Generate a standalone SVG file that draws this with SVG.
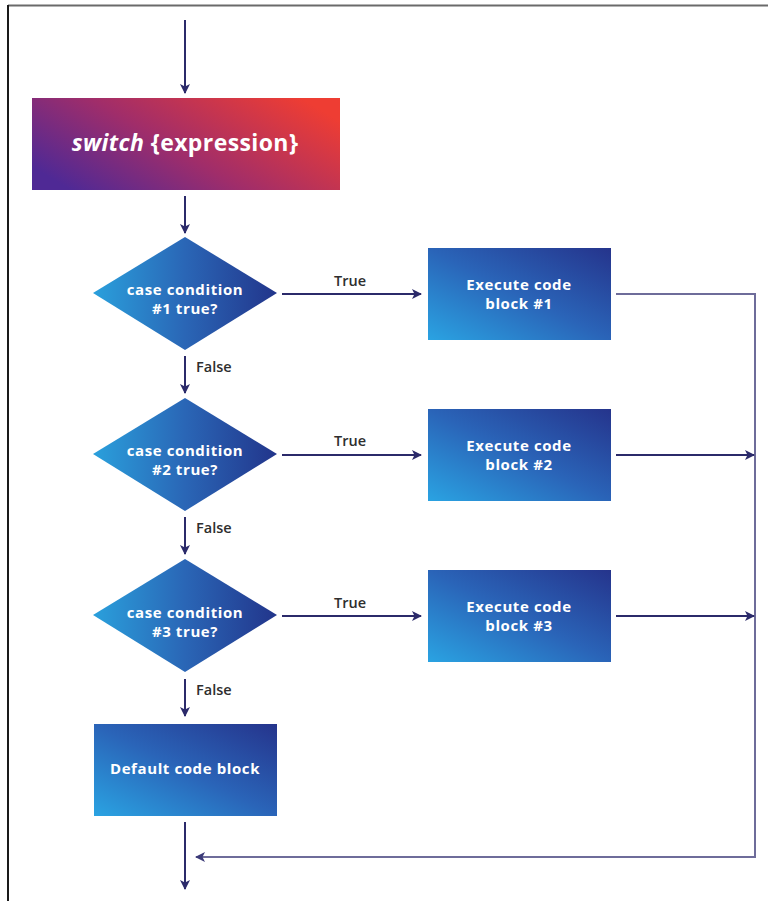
<svg xmlns="http://www.w3.org/2000/svg" width="768" height="901" viewBox="0 0 768 901">
  <defs>
    <linearGradient id="gSwitch" x1="0" y1="0.75" x2="1" y2="0.25">
      <stop offset="0" stop-color="#4f2995"/>
      <stop offset="0.45" stop-color="#a02d6a"/>
      <stop offset="1" stop-color="#ee3d33"/>
    </linearGradient>
    <linearGradient id="gBlue" x1="0" y1="1" x2="1" y2="0">
      <stop offset="0" stop-color="#2aa3e2"/>
      <stop offset="0.5" stop-color="#2a64b8"/>
      <stop offset="1" stop-color="#25348c"/>
    </linearGradient>
    <linearGradient id="gDiamond" x1="0" y1="0.5" x2="1" y2="0.5">
      <stop offset="0" stop-color="#2aa0dc"/>
      <stop offset="0.5" stop-color="#2a66b6"/>
      <stop offset="1" stop-color="#22358b"/>
    </linearGradient>
    <marker id="arrow" viewBox="0 0 10 10" refX="9" refY="5" markerWidth="5" markerHeight="5" orient="auto" markerUnits="strokeWidth">
      <path d="M0,0 L10,5 L0,10 L2.5,5 Z" fill="#2b2a6a"/>
    </marker>
    <marker id="arrowSoft" viewBox="0 0 10 10" refX="9" refY="5" markerWidth="5" markerHeight="5" orient="auto" markerUnits="strokeWidth">
      <path d="M0,0 L10,5 L0,10 L2.5,5 Z" fill="#3b3a78"/>
    </marker>
  </defs>
  <style>
    .conn { fill: none; stroke: #2b2a6a; stroke-width: 2; }
    .ret { fill: none; stroke: #6e6c9a; stroke-width: 2; }
    .node-text { font-family: "Open Sans", "Liberation Sans", sans-serif; font-weight: 700; fill: #ffffff; text-anchor: middle; font-size: 15px; letter-spacing: 0.6px; }
    .title { font-size: 23px; letter-spacing: 0.4px; }
    .label { font-family: "Open Sans", "Liberation Sans", sans-serif; font-weight: 600; font-size: 14.5px; fill: #2e2e2e; }
  </style>

  <rect x="0" y="0" width="768" height="901" fill="#ffffff"/>
  <!-- page frame -->
  <line x1="8" y1="5.5" x2="768" y2="5.5" stroke="#6a6a6a" stroke-width="2"/>
  <line x1="8" y1="5" x2="8" y2="901" stroke="#1a1a1a" stroke-width="2"/>

  <g id="connectors">
    <line class="conn" x1="185" y1="20" x2="185" y2="93" marker-end="url(#arrow)"/>
    <line class="conn" x1="185" y1="196" x2="185" y2="233" marker-end="url(#arrow)"/>
    <line class="conn" x1="185" y1="356" x2="185" y2="393" marker-end="url(#arrow)"/>
    <line class="conn" x1="185" y1="517" x2="185" y2="554" marker-end="url(#arrow)"/>
    <line class="conn" x1="185" y1="679" x2="185" y2="716" marker-end="url(#arrow)"/>
    <line class="conn" x1="185" y1="822" x2="185" y2="889" marker-end="url(#arrow)"/>

    <line class="conn" x1="282" y1="294" x2="421" y2="294" marker-end="url(#arrow)"/>
    <line class="conn" x1="282" y1="455" x2="421" y2="455" marker-end="url(#arrow)"/>
    <line class="conn" x1="282" y1="616" x2="421" y2="616" marker-end="url(#arrow)"/>

    <polyline class="ret" points="616,294 755,294 755,857 196,857" marker-end="url(#arrowSoft)"/>
    <line class="conn" x1="616" y1="455" x2="754" y2="455" marker-end="url(#arrow)"/>
    <line class="conn" x1="616" y1="616" x2="754" y2="616" marker-end="url(#arrow)"/>

    <text class="label" x="334" y="286">True</text>
    <text class="label" x="334" y="446">True</text>
    <text class="label" x="334" y="608">True</text>
    <text class="label" x="196" y="372">False</text>
    <text class="label" x="196" y="533">False</text>
    <text class="label" x="196" y="695">False</text>
  </g>

  <g id="switch">
    <rect x="32" y="98" width="308" height="92" fill="url(#gSwitch)"/>
    <text class="node-text title" x="185" y="151"><tspan font-style="italic">switch</tspan> {expression}</text>
  </g>

  <g id="case1">
    <polygon points="185,237 277,293 185,350 93,293" fill="url(#gDiamond)"/>
    <text class="node-text" x="185" y="295">case condition</text>
    <text class="node-text" x="185" y="314">#1 true?</text>
  </g>
  <g id="case2">
    <polygon points="185,398 277,454 185,511 93,454" fill="url(#gDiamond)"/>
    <text class="node-text" x="185" y="456">case condition</text>
    <text class="node-text" x="185" y="475">#2 true?</text>
  </g>
  <g id="case3">
    <polygon points="185,559 277,615 185,672 93,615" fill="url(#gDiamond)"/>
    <text class="node-text" x="185" y="618">case condition</text>
    <text class="node-text" x="185" y="637">#3 true?</text>
  </g>

  <g id="block1">
    <rect x="428" y="248" width="183" height="92" fill="url(#gBlue)"/>
    <text class="node-text" x="519" y="290">Execute code</text>
    <text class="node-text" x="519" y="309">block #1</text>
  </g>
  <g id="block2">
    <rect x="428" y="409" width="183" height="92" fill="url(#gBlue)"/>
    <text class="node-text" x="519" y="451">Execute code</text>
    <text class="node-text" x="519" y="470">block #2</text>
  </g>
  <g id="block3">
    <rect x="428" y="570" width="183" height="92" fill="url(#gBlue)"/>
    <text class="node-text" x="519" y="612">Execute code</text>
    <text class="node-text" x="519" y="631">block #3</text>
  </g>

  <g id="default">
    <rect x="94" y="724" width="183" height="92" fill="url(#gBlue)"/>
    <text class="node-text" x="185" y="774">Default code block</text>
  </g>
</svg>
